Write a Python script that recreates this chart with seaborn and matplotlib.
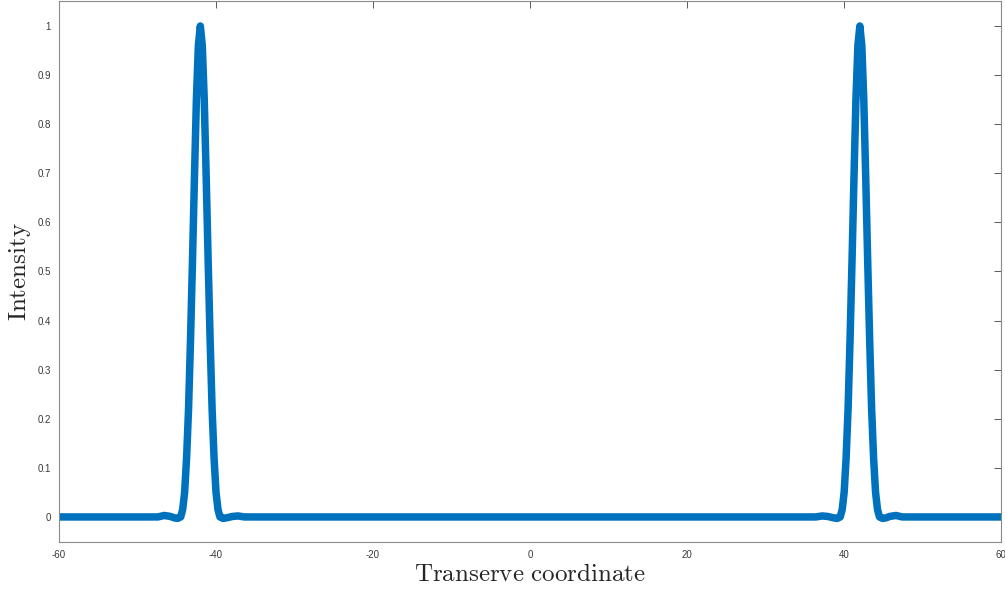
import numpy as np
import pandas as pd
import matplotlib
matplotlib.use("Agg")
import matplotlib.pyplot as plt
import seaborn as sns

# Transverse coordinate samples
x_coord = [-60.0, -55.0, -50.0, -47.4, -46.6, -45.8, -45.3, -44.9, -44.5,
           -44.25, -44.0, -43.75, -43.5, -43.25, -43.0, -42.75, -42.5, -42.25,
           -42.0, -41.75, -41.5, -41.25, -41.0, -40.75, -40.5, -40.25, -40.0,
           -39.75, -39.5, -39.1, -38.7, -37.9, -37.2, -36.4, -30.0, -15.0,
           0.0, 15.0, 30.0, 36.4, 37.2, 37.9, 38.7, 39.1, 39.5, 39.75, 40.0,
           40.25, 40.5, 40.75, 41.0, 41.25, 41.5, 41.75, 42.0, 42.25, 42.5,
           42.75, 43.0, 43.25, 43.5, 43.75, 44.0, 44.25, 44.5, 44.9, 45.3,
           45.8, 46.6, 47.4, 50.0, 55.0, 60.0]

intensity = [0.0, 0.0, 0.0, 0.0, 0.003, 0.001, -0.002, -0.003, 0.0,
             0.015, 0.05, 0.12, 0.22, 0.36, 0.52, 0.69, 0.85, 0.96,
             1.0, 0.96, 0.85, 0.69, 0.52, 0.36, 0.22, 0.12, 0.05,
             0.015, 0.0, -0.003, -0.002, 0.001, 0.002, 0.0, 0.0, 0.0,
             0.0, 0.0, 0.0, 0.0, 0.002, 0.001, -0.002, -0.003, 0.0, 0.015, 0.05,
             0.12, 0.22, 0.36, 0.52, 0.69, 0.85, 0.96, 1.0, 0.96, 0.85,
             0.69, 0.52, 0.36, 0.22, 0.12, 0.05, 0.015, 0.0, -0.003, -0.002,
             0.001, 0.003, 0.0, 0.0, 0.0, 0.0]

x_ticks = [-60, -40, -20, 0, 20, 40, 60]
y_ticks = [0, 0.1, 0.2, 0.3, 0.4, 0.5, 0.6, 0.7, 0.8, 0.9, 1]
y_tick_labels = ["0", "0.1", "0.2", "0.3", "0.4", "0.5", "0.6", "0.7", "0.8", "0.9", "1"]

df = pd.DataFrame({"x": x_coord, "I": intensity})

sns.set_style("white")
plt.rcParams["mathtext.fontset"] = "cm"
plt.rcParams["font.family"] = ["Liberation Sans", "DejaVu Sans"]

fig = plt.figure(figsize=(10.05, 5.9), dpi=100)
ax = fig.add_axes([0.0587, 0.0814, 0.9375, 0.917])

sns.lineplot(data=df, x="x", y="I", ax=ax, color="#0072BD", linewidth=5.4,
             sort=False, estimator=None)

ax.set_xlim(-60, 60)
ax.set_ylim(-0.051, 1.051)
ax.set_xticks(x_ticks)
ax.set_xticklabels([str(t) for t in x_ticks])
ax.set_yticks(y_ticks)
ax.set_yticklabels(y_tick_labels)

ax.tick_params(axis="both", direction="in", length=5, width=0.6,
               colors="#404040", labelsize=7, top=True, right=True,
               labelcolor="#3a3a3a", pad=6)
for s in ax.spines.values():
    s.set_color("#8a8a8a")
    s.set_linewidth(0.8)
    s.set_visible(True)

ax.set_xlabel(r"$\mathrm{Transerve\ coordinate}$", fontsize=18, color="#262626", labelpad=1)
ax.set_ylabel(r"$\mathrm{Intensity}$", fontsize=18, color="#262626", labelpad=3)

fig.savefig("out.png", dpi=100)
